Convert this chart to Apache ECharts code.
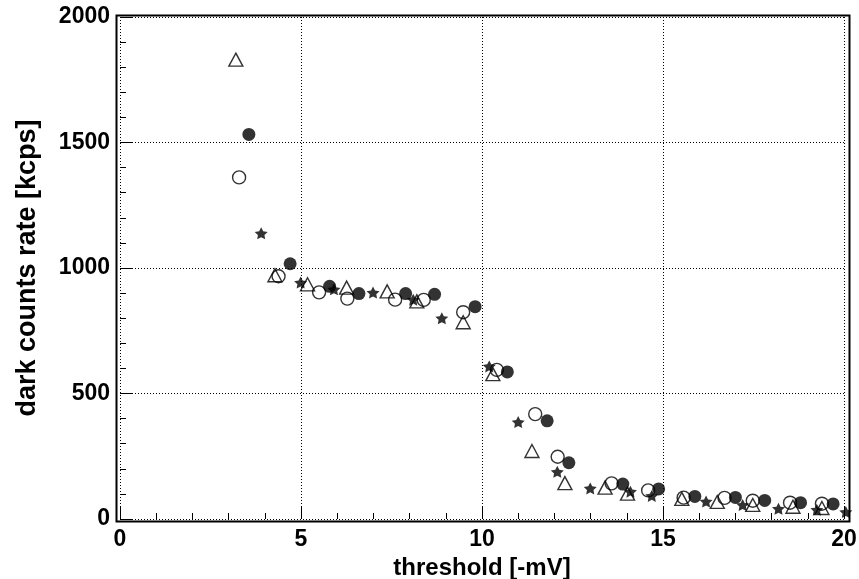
<!DOCTYPE html>
<html>
<head>
<meta charset="utf-8">
<script src="https://cdn.jsdelivr.net/npm/echarts@6/dist/echarts.min.js"></script>
<style>
html,body{margin:0;padding:0;background:#fff;}
#chart{width:859px;height:579px;}
</style>
</head>
<body>
<div id="chart"></div>
<script>
// x-axis ticks and y-axis ticks
const xTicks = [0, 5, 10, 15, 20];
const yTicks = [0, 500, 1000, 1500, 2000];

// open triangles
const triX = [3.20, 4.28, 5.18, 6.26, 7.38, 8.20, 9.48, 10.30, 11.38, 12.29, 13.40, 14.02, 15.52, 16.50, 17.48, 18.59, 19.39];
const triY = [1830, 971, 935, 922, 907, 867, 784, 577, 271, 143, 125, 101, 80, 68, 56, 49, 44];

// open circles
const ocX = [3.29, 4.38, 5.50, 6.28, 7.60, 8.39, 9.48, 10.41, 11.47, 12.09, 13.58, 14.59, 15.57, 16.70, 17.48, 18.51, 19.39];
const ocY = [1361, 967, 903, 878, 874, 873, 824, 594, 418, 248, 142, 114, 85, 84, 73, 65, 61];

// filled circles
const fcX = [3.56, 4.70, 5.79, 6.60, 7.89, 8.69, 9.81, 10.70, 11.80, 12.40, 13.89, 14.88, 15.88, 17.00, 17.81, 18.80, 19.70];
const fcY = [1532, 1017, 927, 898, 898, 895, 846, 586, 391, 224, 139, 120, 90, 86, 74, 65, 60];

// stars
const stX = [3.90, 4.99, 5.91, 6.99, 8.10, 8.89, 10.20, 11.00, 12.08, 12.99, 14.10, 14.69, 16.19, 17.20, 18.19, 19.25, 20.05];
const stY = [1138, 942, 915, 902, 874, 800, 608, 386, 188, 122, 109, 92, 70, 56, 41, 37, 28];

function pairs(xs, ys) { return xs.map((x, i) => [x, ys[i]]); }

const FONT = 'Liberation Sans';
const STAR = 'path://M0,-10 L2.94,-4.05 L9.51,-3.09 L4.76,1.55 L5.88,8.09 L0,5 L-5.88,8.09 L-4.76,1.55 L-9.51,-3.09 L-2.94,-4.05 Z';

const chart = echarts.init(document.getElementById('chart'), null, {renderer: 'canvas'});
const labelStyle = {color: '#000', fontFamily: FONT, fontWeight: 'bold', fontSize: 23};
const gridLine = {show: true, lineStyle: {color: '#000', width: 1, type: [1, 2]}};

chart.setOption({
  animation: false,
  backgroundColor: '#fff',
  grid: {left: 120, right: 15, top: 17, bottom: 60, containLabel: false, outerBoundsMode: 'none'},
  xAxis: {
    type: 'value', min: xTicks[0], max: xTicks[xTicks.length - 1], interval: 5,
    offset: 3,
    name: 'threshold [-mV]', nameLocation: 'middle', nameGap: 22,
    nameTextStyle: {color: '#000', fontFamily: FONT, fontWeight: 'bold', fontSize: 24},
    axisLine: {show: false},
    axisTick: {show: true, inside: true, length: 13, lineStyle: {color: '#000', width: 1}},
    minorTick: {show: true, splitNumber: 5, length: 6, lineStyle: {color: '#000', width: 1}},
    axisLabel: Object.assign({margin: 6, formatter: v => xTicks.includes(v) ? String(v) : ''}, labelStyle),
    splitLine: gridLine
  },
  yAxis: {
    type: 'value', min: yTicks[0], max: yTicks[yTicks.length - 1], interval: 500,
    offset: 4,
    name: 'dark counts rate [kcps]', nameLocation: 'middle', nameGap: 75,
    nameTextStyle: {color: '#000', fontFamily: FONT, fontWeight: 'bold', fontSize: 27},
    axisLine: {show: false},
    axisTick: {show: true, inside: true, length: 12, lineStyle: {color: '#000', width: 1}},
    minorTick: {show: true, splitNumber: 5, length: 6, lineStyle: {color: '#000', width: 1}},
    axisLabel: Object.assign({margin: 6, verticalAlign: 'middle',
      formatter: v => yTicks.includes(v) ? String(v) : ''}, labelStyle),
    splitLine: gridLine
  },
  graphic: [{
    type: 'rect', z: 100, silent: true,
    shape: {x: 116.5, y: 15.5, width: 733, height: 506},
    style: {fill: 'none', stroke: '#000', lineWidth: 2}
  }],
  series: [
    {type: 'scatter', name: 'triangle', data: pairs(triX, triY), symbol: 'triangle', symbolSize: [14, 13],
     itemStyle: {color: 'rgba(0,0,0,0)', borderColor: '#000', borderWidth: 1.4}, emphasis: {disabled: true}, z: 3},
    {type: 'scatter', name: 'open circle', data: pairs(ocX, ocY), symbol: 'circle', symbolSize: 13,
     itemStyle: {color: 'rgba(0,0,0,0)', borderColor: '#000', borderWidth: 1.4}, emphasis: {disabled: true}, z: 3},
    {type: 'scatter', name: 'filled circle', data: pairs(fcX, fcY), symbol: 'circle', symbolSize: 13,
     itemStyle: {color: '#000', borderWidth: 0}, emphasis: {disabled: true}, z: 4},
    {type: 'scatter', name: 'star', data: pairs(stX, stY), symbol: STAR, symbolSize: [13, 12], clip: false,
     itemStyle: {color: '#000', borderWidth: 0}, emphasis: {disabled: true}, z: 5}
  ]
});
</script>
</body>
</html>
